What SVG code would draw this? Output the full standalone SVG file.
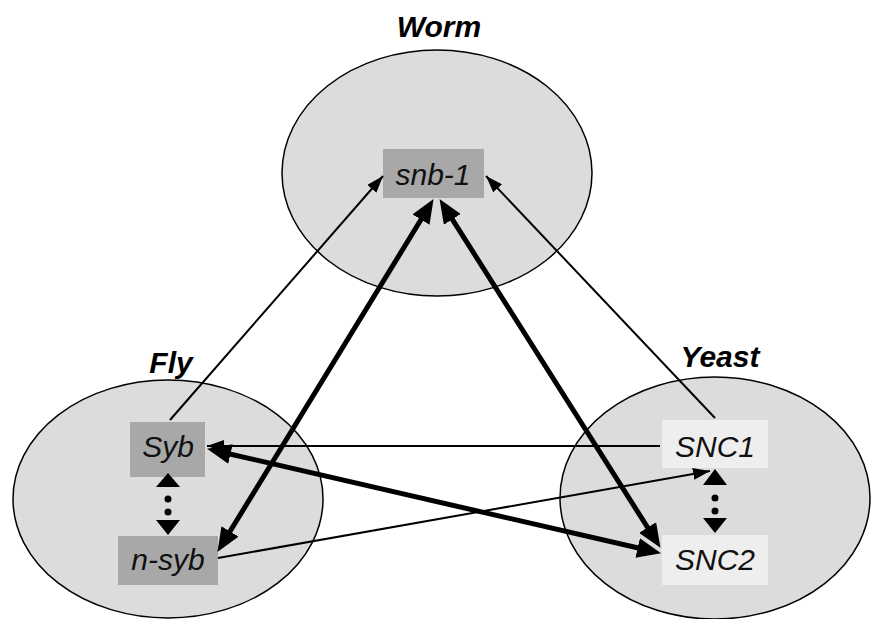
<svg xmlns="http://www.w3.org/2000/svg" width="874" height="619" viewBox="0 0 874 619">
<defs>
<style>
.sp{fill:#dcdcdc;stroke:#000;stroke-width:1.5}
.title{font-family:"Liberation Sans",Arial,sans-serif;font-weight:bold;font-style:italic;font-size:30px;fill:#000;text-anchor:middle}
.lbl{font-family:"Liberation Sans",Arial,sans-serif;font-style:italic;font-size:30px;fill:#111;text-anchor:middle}
.dark{fill:#a8a8a8}
.light{fill:#eeeeee}
.thin{stroke:#000;stroke-width:2;fill:none;marker-end:url(#ah)}
.thick{stroke:#000;stroke-width:5;fill:none;marker-start:url(#ahb);marker-end:url(#ahb)}
.tri{fill:#000}
</style>
<marker id="ah" markerUnits="userSpaceOnUse" markerWidth="17" markerHeight="12" refX="17" refY="6" orient="auto"><path d="M0,0 L17,6 L0,12 z" fill="#000"/></marker>
<marker id="ahb" markerUnits="userSpaceOnUse" markerWidth="24" markerHeight="20" refX="13" refY="10" orient="auto-start-reverse"><path d="M0,0 L24,10 L0,20 z" fill="#000"/></marker>
</defs>
<rect width="874" height="619" fill="#fff"/>
<g id="worm">
<ellipse class="sp" cx="437" cy="173" rx="155" ry="123"/>
<text class="title" x="439" y="37">Worm</text>
</g>
<g id="fly">
<ellipse class="sp" cx="168" cy="499" rx="155" ry="119"/>
<text class="title" x="171" y="373">Fly</text>
</g>
<g id="yeast">
<ellipse class="sp" cx="715" cy="498" rx="155" ry="121"/>
<text class="title" x="720" y="367">Yeast</text>
</g>
<g id="snb-1">
<rect class="dark" x="383" y="149" width="101" height="49"/>
<text class="lbl" x="433" y="185">snb-1</text>
</g>
<g id="syb">
<rect class="dark" x="130" y="422" width="75" height="55"/>
<text class="lbl" x="168" y="457">Syb</text>
</g>
<g id="n-syb">
<rect class="dark" x="118" y="536" width="100" height="49"/>
<text class="lbl" x="168" y="570">n-syb</text>
</g>
<g id="snc1">
<rect class="light" x="662" y="420" width="106" height="48"/>
<text class="lbl" x="715" y="457">SNC1</text>
</g>
<g id="snc2">
<rect class="light" x="662" y="535" width="106" height="50"/>
<text class="lbl" x="715" y="570">SNC2</text>
</g>
<g id="connectors">
<line class="thin" x1="170" y1="420" x2="383" y2="176"/>
<line class="thin" x1="715" y1="418" x2="486" y2="176"/>
<line class="thin" x1="660" y1="446" x2="207" y2="446"/>
<line class="thin" x1="218" y1="558" x2="710" y2="471"/>
<line class="thick" x1="223.2" y1="542.5" x2="427.8" y2="208.5"/>
<line class="thick" x1="445.4" y1="208.4" x2="654.6" y2="538.5"/>
<line class="thick" x1="217.8" y1="451.2" x2="650.3" y2="550.8"/>
<polygon class="tri" points="168,473 180,487 156,487"/>
<circle class="tri" cx="168" cy="499" r="3.5"/>
<circle class="tri" cx="168" cy="512" r="3.5"/>
<polygon class="tri" points="156,520 180,520 168,535"/>
<polygon class="tri" points="715,469 727,485 703,485"/>
<circle class="tri" cx="715" cy="498" r="3.5"/>
<circle class="tri" cx="715" cy="511" r="3.5"/>
<polygon class="tri" points="703,518 727,518 715,533"/>
</g>
</svg>
